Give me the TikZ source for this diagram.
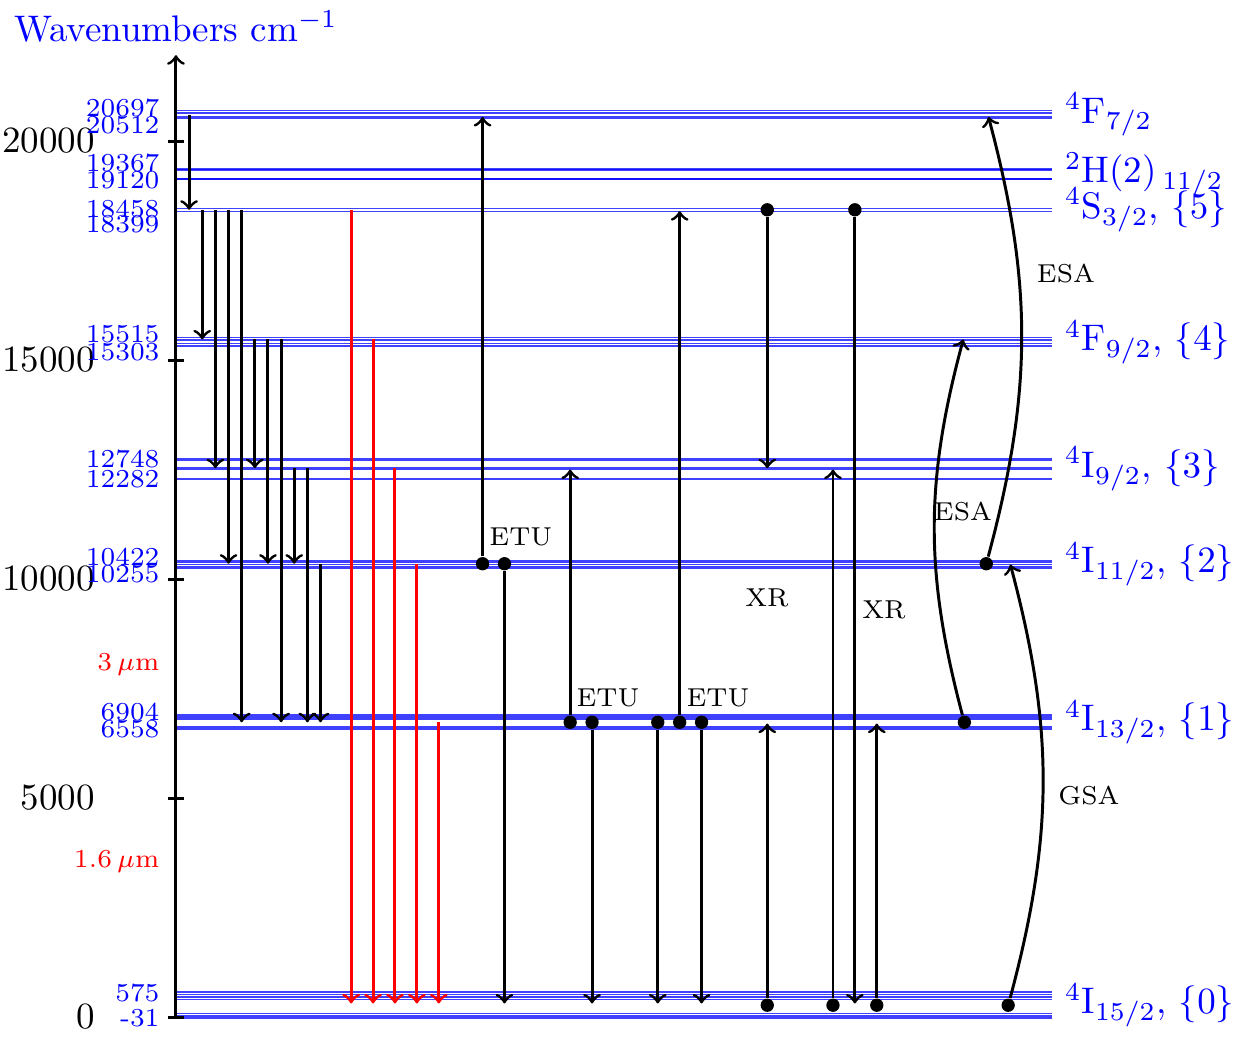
\documentclass[tikz,border=0pt]{standalone}
\usepackage{amsmath}
\usepackage{amssymb}
\usepackage{tikz}

\tikzset{
	stark/.style={blue, opacity=0.75, line width=0.35pt},
	trans/.style={black, thick, ->},
	emis/.style={red, thick, ->},
	dot/.style={circle, fill=black, inner sep=0pt, minimum size=3.6pt},
	wn/.style={blue, font=\scriptsize, anchor=east, inner sep=1pt},
	term/.style={blue, anchor=west},
	proc/.style={font=\scriptsize}
}

\begin{document}
\begin{tikzpicture}[x=1.04cm, y=0.416cm]
			\useasboundingbox (-1.607,-0.433) rectangle (9.653,23.22);
			\foreach \e in {-0.031, 0.0, 0.04, 0.08, 0.40, 0.46, 0.52, 0.575,
				6.558, 6.60, 6.64, 6.79, 6.83, 6.87, 6.904,
				10.255, 10.29, 10.33, 10.37, 10.40, 10.422,
				12.282, 12.51, 12.55, 12.72, 12.748,
				15.303, 15.33, 15.38, 15.46, 15.515,
				18.399, 18.458,
				19.12, 19.135, 19.15, 19.34, 19.355, 19.367,
				20.512, 20.55, 20.64, 20.697}
				\draw[stark] (0,\e) -- (8,\e);
			\coordinate (o) at (0,-0.05);
			\coordinate (top) at (0,21.96);
			\draw[thick, ->] (o) -- (top);
			\node[blue, anchor=south] (wav) at (top) {Wavenumbers cm$^{-1}$};
			\foreach \t/\l in {0/0, 5/5000, 10/10000, 15/15000, 20/20000} {
				\draw[thick] (-0.075,\t) -- (0.075,\t);
				\node[anchor=east] (k\t) at (-0.62,\t) {\l};
			}
			\foreach \e/\l [count=\i] in {20.75/20697, 20.36/20512, 19.50/19367, 19.10/19120,
				18.45/18458, 18.11/18399, 15.59/15515, 15.18/15303, 12.73/12748, 12.27/12282,
				10.51/10422, 10.11/10255, 6.97/6904, 6.57/6558, 0.56/575, -0.03/-31}
				\node[wn] (w\i) at (-0.11,\e) {\l};
			\node[wn, red] (mu3) at (-0.11,8.04) {$3\,\mu$m};
			\node[wn, red] (mu16) at (-0.11,3.55) {$1.6\,\mu$m};
			\node[term] (T7) at (8,20.6045) {$^4$F$_{7/2}$};
			\node[term] (T6) at (8,19.2435) {$^2$H(2)\kern1.5pt$_{11/2}$};
			\node[term] (T5) at (8,18.4285) {$^4$S$_{3/2}$, $\{5\}$};
			\node[term] (T4) at (8,15.409) {$^4$F$_{9/2}$, $\{4\}$};
			\node[term] (T3) at (8,12.515) {$^4$I$_{9/2}$, $\{3\}$};
			\node[term] (T2) at (8,10.3385) {$^4$I$_{11/2}$, $\{2\}$};
			\node[term] (T1) at (8,6.731) {$^4$I$_{13/2}$, $\{1\}$};
			\node[term] (T0) at (8,0.272) {$^4$I$_{15/2}$, $\{0\}$};
			\foreach \x/\a/\b [count=\i] in {0.12/20.60/18.43, 0.24/18.43/15.47, 0.36/18.43/12.53,
				0.48/18.43/10.35, 0.60/18.43/6.73, 0.72/15.47/12.53, 0.84/15.47/10.35,
				0.96/15.47/6.73, 1.08/12.53/10.35, 1.20/12.53/6.73, 1.32/10.35/6.73} {
				\coordinate (ca\i) at (\x,\a);
				\coordinate (cb\i) at (\x,\b);
				\draw[trans] (ca\i) -- (cb\i);
			}
			\foreach \x/\a [count=\i] in {1.6/18.43, 1.8/15.47, 2.0/12.53, 2.2/10.35, 2.4/6.73} {
				\coordinate (ra\i) at (\x,\a);
				\coordinate (rb\i) at (\x,0.31);
				\draw[emis] (ra\i) -- (rb\i);
			}
			\foreach \x/\a/\b [count=\i] in {2.8/10.35/20.55, 3.0/10.35/0.31, 3.6/6.73/12.50,
				3.8/6.73/0.31, 4.4/6.73/0.31, 4.6/6.73/18.40, 4.8/6.73/0.31, 5.4/18.43/12.53,
				5.4/0.27/6.70, 6.0/0.27/12.50, 6.2/18.43/0.31, 6.4/0.27/6.70} {
				\node[dot] (da\i) at (\x,\a) {};
				\coordinate (db\i) at (\x,\b);
				\draw[trans] (da\i) -- (db\i);
			}
			\node[dot] (g1) at (7.6,0.27) {};
			\coordinate (g2) at (7.62,10.33);
			\draw[trans] (g1) to[bend right=15] (g2);
			\node[dot] (e1) at (7.2,6.73) {};
			\coordinate (e2) at (7.19,15.47);
			\draw[trans] (e1) to[bend left=15] (e2);
			\node[dot] (f1) at (7.4,10.35) {};
			\coordinate (f2) at (7.42,20.55);
			\draw[trans] (f1) to[bend right=15] (f2);
			\node[proc] (etu1) at (3.15,10.96) {ETU};
			\node[proc] (etu2) at (3.945,7.29) {ETU};
			\node[proc] (etu3) at (4.95,7.29) {ETU};
			\node[proc] (xr1) at (5.397,9.57) {XR};
			\node[proc] (xr2) at (6.466,9.29) {XR};
			\node[proc] (esa1) at (7.187,11.55) {ESA};
			\node[proc] (esa2) at (8.128,16.97) {ESA};
			\node[proc] (gsa) at (8.338,5.06) {GSA};
		\end{tikzpicture}
\end{document}
